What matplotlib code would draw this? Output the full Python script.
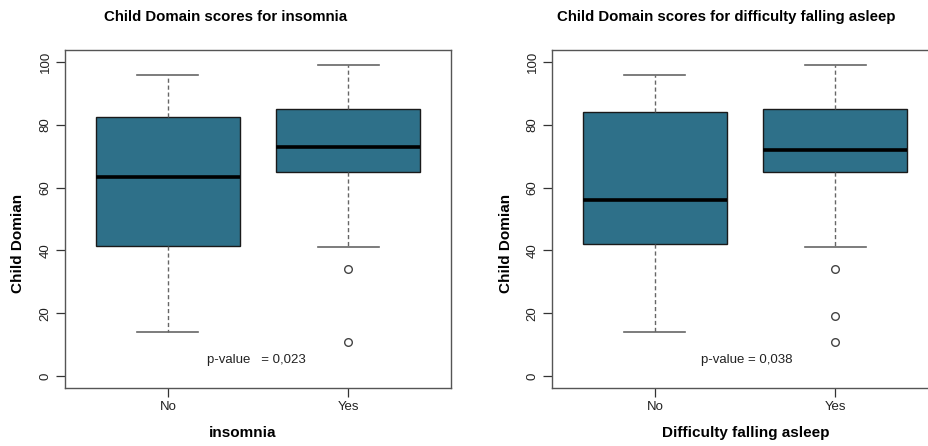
import matplotlib
matplotlib.use("Agg")
import matplotlib.pyplot as plt

plt.rcParams['font.family'] = ['Liberation Sans', 'DejaVu Sans']

groups = ['No', 'Yes']

# insomnia: whislo, q1, median, q3, whishi
ins_no = [14, 41.5, 63.5, 82.5, 96]
ins_yes = [41, 65, 73, 85, 99]
ins_out_no = []
ins_out_yes = [34, 11]

# difficulty falling asleep
dfa_no = [14, 42, 56, 84, 96]
dfa_yes = [41, 65, 72, 85, 99]
dfa_out_no = []
dfa_out_yes = [34, 19, 11]

titles = ['Child Domain scores for insomnia',
          'Child Domain scores for difficulty falling asleep']
xlabels = ['insomnia', 'Difficulty falling asleep']
pvals = ['p-value   = 0,023', 'p-value = 0,038']

boxcol = '#2e7089'
W, H = 929, 446


def stats(v, out):
    return dict(whislo=v[0], q1=v[1], med=v[2], q3=v[3], whishi=v[4], fliers=out)


fig = plt.figure(figsize=(W / 100, H / 100), dpi=100)
panels = [
    (65, [stats(ins_no, ins_out_no), stats(ins_yes, ins_out_yes)], 226, 243, 18, 256),
    (552, [stats(dfa_no, dfa_out_no), stats(dfa_yes, dfa_out_yes)], 726, 746, 506, 747),
]

for i, (x0, st, tx, lx, yx, px) in enumerate(panels):
    ax = fig.add_axes([x0 / W, 58 / H, 386 / W, 338 / H])
    ax.bxp(st, positions=[1, 2], widths=0.8, patch_artist=True, showfliers=True,
           boxprops=dict(facecolor=boxcol, edgecolor='#1a1a1a', linewidth=1.0),
           medianprops=dict(color='black', linewidth=2.6),
           whiskerprops=dict(color='#666666', linestyle=(0, (3, 2)), linewidth=1.0),
           capprops=dict(color='#666666', linewidth=1.2),
           capwidths=0.34,
           flierprops=dict(marker='o', markerfacecolor='none', markeredgecolor='#444444',
                           markersize=5.5, markeredgewidth=1.0))
    ax.set_xlim(0.43, 2.57)
    ax.set_ylim(-3.8, 103.8)
    ax.set_yticks([0, 20, 40, 60, 80, 100])
    ax.set_xticks([1, 2])
    ax.set_xticklabels(groups)
    for lab in ax.get_yticklabels():
        lab.set_rotation(90)
        lab.set_va('center')
    ax.tick_params(axis='both', labelsize=9.5, colors='#333333', length=6.5, width=0.9,
                   labelcolor='#222222', pad=3)
    for s in ax.spines.values():
        s.set_color('#555555')
        s.set_linewidth(1.0)
    ax.text(1.5 + (px - (x0 + 193)) / 180, 5.2, pvals[i], ha='center', va='center',
            fontsize=9.5, color='#222222')
    fig.text(tx / W, 1 - 17 / H, titles[i], ha='center', va='center',
             fontsize=10.8, fontweight='bold')
    fig.text(lx / W, 1 - 433 / H, xlabels[i], ha='center', va='center',
             fontsize=11, fontweight='bold')
    fig.text(yx / W, 1 - 243 / H, 'Child Domian', ha='center', va='center',
             rotation=90, fontsize=11, fontweight='bold')

fig.savefig('out.png', dpi=100)
